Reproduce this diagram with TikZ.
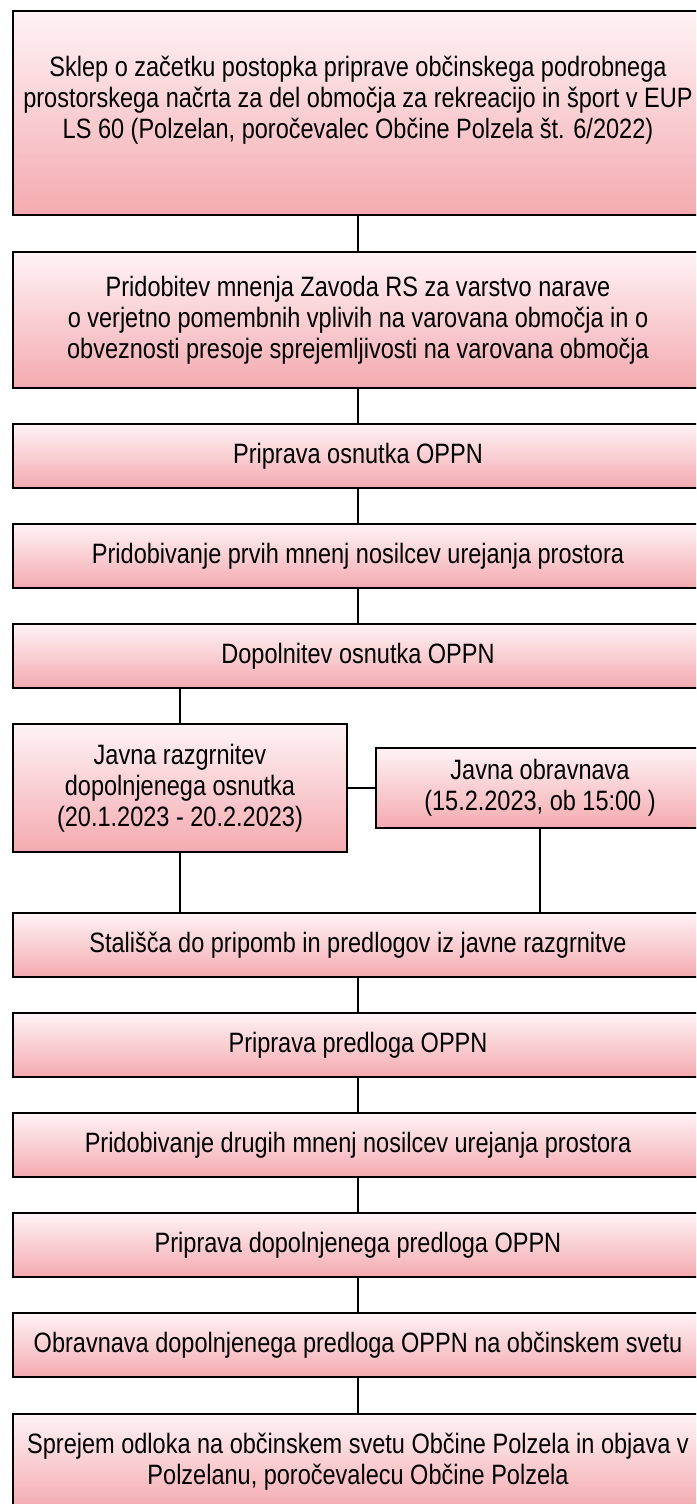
\documentclass[tikz,border=0pt]{standalone}
\usepackage{fontspec}
\setmainfont{Liberation Sans}[FakeStretch=0.84]
\definecolor{boxtop}{RGB}{254,243,245}
\definecolor{boxbot}{RGB}{244,170,176}
\tikzset{
  stagebox/.style={draw=black, line width=1.2pt, top color=boxtop, bottom color=boxbot,
    minimum width=690pt, inner sep=0pt, align=center, font=\fontsize{28}{31}\selectfont},
  stagetext/.style={align=center, inner sep=0pt, font=\fontsize{28}{31}\selectfont},
  link/.style={line width=1.2pt}
}
\begin{document}
\begin{tikzpicture}[x=1pt,y=-1pt]
  \useasboundingbox (0,0) rectangle (696,1504);
  \clip (0,0) rectangle (696,1504);
  % sklep
  \node[stagebox, minimum height=204pt] (s1) at (358,113) {};
  \node[stagetext] (s1t) at (358,100) {Sklep o začetku postopka priprave občinskega podrobnega\\
    prostorskega načrta za del območja za rekreacijo in šport v EUP\\
    LS 60 (Polzelan, poročevalec Občine Polzela št. 6/2022)};
  \node[stagebox, minimum height=136pt] (s2) at (358,320) {Pridobitev mnenja Zavoda RS za varstvo narave\\
    o verjetno pomembnih vplivih na varovana območja in o\\
    obveznosti presoje sprejemljivosti na varovana območja};
  \node[stagebox, minimum height=64pt] (s3) at (358,456) {Priprava osnutka OPPN};
  \node[stagebox, minimum height=64pt] (s4) at (358,556) {Pridobivanje prvih mnenj nosilcev urejanja prostora};
  \node[stagebox, minimum height=64pt] (s5) at (358,656) {Dopolnitev osnutka OPPN};
  % javna razgrnitev
  \node[stagebox, minimum width=334pt, minimum height=128pt] (s6a) at (180,788) {Javna razgrnitev\\
    dopolnjenega osnutka\\(20.1.2023 - 20.2.2023)};
  \node[stagebox, minimum width=328pt, minimum height=80pt] (s6b) at (540,788) {Javna obravnava\\
    (15.2.2023, ob 15:00 )};
  % predlog
  \node[stagebox, minimum height=64pt] (s7) at (358,945) {Stališča do pripomb in predlogov iz javne razgrnitve};
  \node[stagebox, minimum height=64pt] (s8) at (358,1045) {Priprava predloga OPPN};
  \node[stagebox, minimum height=64pt] (s9) at (358,1145) {Pridobivanje drugih mnenj nosilcev urejanja prostora};
  \node[stagebox, minimum height=64pt] (s10) at (358,1245) {Priprava dopolnjenega predloga OPPN};
  \node[stagebox, minimum height=64pt] (s11) at (358,1345) {Obravnava dopolnjenega predloga OPPN na občinskem svetu};
  \node[stagebox, minimum height=96pt] (s12) at (358,1462) {Sprejem odloka na občinskem svetu Občine Polzela in objava v\\
    Polzelanu, poročevalecu Občine Polzela};
  % povezave
  \foreach \a/\b in {s1/s2, s2/s3, s3/s4, s4/s5, s7/s8, s8/s9, s9/s10, s10/s11, s11/s12}{
    \draw[link] (\a.south) -- (\b.north);
  }
  \draw[link] (s6a.north) -- (s6a.north |- s5.south);
  \draw[link] (s6a.east) -- (s6b.west);
  \draw[link] (s6a.south) -- (s6a.south |- s7.north);
  \draw[link] (s6b.south) -- (s6b.south |- s7.north);
\end{tikzpicture}
\end{document}
